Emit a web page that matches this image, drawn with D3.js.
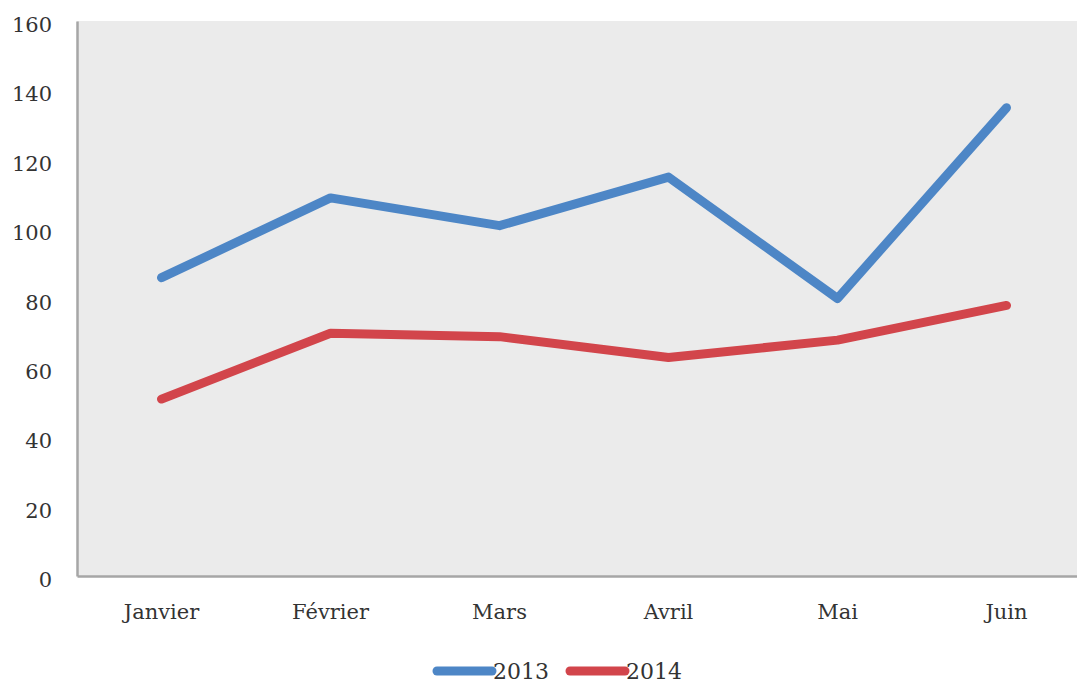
<!DOCTYPE html>
<html>
<head>
<meta charset="utf-8">
<script src="https://cdn.jsdelivr.net/npm/d3@7"></script>
<style>
  body { margin: 0; background: #fff; }
  svg text { font-family: "DejaVu Serif", serif; fill: #333; }
</style>
</head>
<body>
<div id="chart"></div>
<script>
// data
const months = ["Janvier", "Février", "Mars", "Avril", "Mai", "Juin"];
const values2013 = [86, 109, 101, 115, 80, 135];
const values2014 = [51, 70, 69, 63, 68, 78];
const yTicks = [0, 20, 40, 60, 80, 100, 120, 140, 160];

const series = [
    { name: "2013", values: values2013, color: "#4d86c6" },
    { name: "2014", values: values2014, color: "#d2454b" }
];

const W = 1077, H = 684;
const margin = { top: 21, left: 77 };
const plotBottom = 576;
const plotRight = 1091; // plot runs past the right edge of the picture

const svg = d3.select("#chart")
    .append("svg")
    .attr("width", W)
    .attr("height", H);

// scales
const x = d3.scaleBand()
    .domain(months)
    .range([margin.left, plotRight]);

const y = d3.scaleLinear()
    .domain([0, 160])
    .range([plotBottom, margin.top]);

// grey plot area
svg.append("rect")
    .attr("x", margin.left)
    .attr("y", margin.top)
    .attr("width", plotRight - margin.left)
    .attr("height", plotBottom - margin.top)
    .attr("fill", "#ebebeb");

// y axis
const yAxis = svg.append("g")
    .attr("transform", "translate(" + margin.left + ",0)")
    .call(d3.axisLeft(y).tickValues(yTicks).tickSize(0).tickPadding(25));
yAxis.select(".domain").attr("stroke", "#a6a6a6").attr("stroke-width", 2.5);
yAxis.selectAll("text")
    .style("font-size", "21px")
    .attr("dy", "0.5em");

// x axis
const xAxis = svg.append("g")
    .attr("transform", "translate(0," + plotBottom + ")")
    .call(d3.axisBottom(x).tickSize(0).tickPadding(28));
xAxis.select(".domain").attr("stroke", "#a6a6a6").attr("stroke-width", 2.5);
xAxis.selectAll("text")
    .style("font-size", "21px");

// lines
const line = d3.line()
    .x(function(d, i) { return x(months[i]) + x.bandwidth() / 2; })
    .y(function(d) { return y(d); });

series.forEach(function(s) {
    svg.append("path")
        .datum(s.values)
        .attr("d", line)
        .attr("fill", "none")
        .attr("stroke", s.color)
        .attr("stroke-width", 9)
        .attr("stroke-linecap", "round")
        .attr("stroke-linejoin", "round");
});

// legend
const legend = svg.append("g")
    .attr("transform", "translate(437,671)");

const legendItem = legend.selectAll("g")
    .data(series)
    .enter()
    .append("g")
    .attr("transform", function(d, i) { return "translate(" + (i * 133) + ",0)"; });

legendItem.append("line")
    .attr("x1", 0)
    .attr("x2", 55)
    .attr("stroke", function(d) { return d.color; })
    .attr("stroke-width", 9)
    .attr("stroke-linecap", "round");

legendItem.append("text")
    .attr("x", 56)
    .attr("dy", "0.38em")
    .style("font-size", "22px")
    .text(function(d) { return d.name; });
</script>
</body>
</html>
